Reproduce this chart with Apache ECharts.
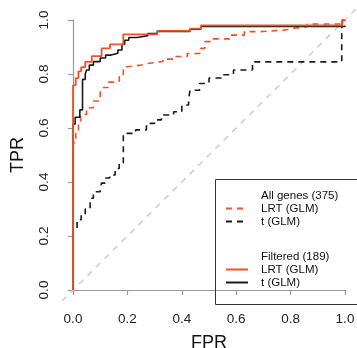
<!DOCTYPE html>
<html>
<head>
<meta charset="utf-8">
<script src="https://cdn.jsdelivr.net/npm/echarts@6/dist/echarts.min.js"></script>
<style>html,body{margin:0;padding:0;background:#fff;}#c{width:357px;height:348px;}</style>
</head>
<body>
<div id="c"></div>
<script>
// Tick labels
const tickLabels = ['0.0', '0.2', '0.4', '0.6', '0.8', '1.0'];

// Filtered (189) - LRT (GLM): step vertices (FPR, TPR)
const filtLrtFpr = [0, 0, 0.01, 0.02, 0.03, 0.045, 0.069, 0.105, 0.136, 0.185, 0.31, 0.43, 0.47, 0.99, 1];
const filtLrtTpr = [0, 0.758, 0.785, 0.81, 0.825, 0.845, 0.866, 0.895, 0.91, 0.947, 0.96, 0.968, 0.98, 1, 1];

// Filtered (189) - t (GLM)
const filtTFpr = [0, 0, 0.008, 0.025, 0.035, 0.045, 0.05, 0.06, 0.075, 0.10, 0.12, 0.14, 0.165, 0.18, 0.19, 0.205, 0.235, 0.275, 0.31, 0.43, 0.47, 0.99, 1];
const filtTTpr = [0, 0.615, 0.64, 0.667, 0.78, 0.80, 0.815, 0.833, 0.846, 0.859, 0.87, 0.877, 0.889, 0.91, 0.925, 0.935, 0.942, 0.95, 0.958, 0.966, 0.976, 1, 1];

// All genes (375) - LRT (GLM)
const allLrtFpr = [0, 0, 0.01, 0.02, 0.028, 0.05, 0.075, 0.10, 0.105, 0.13, 0.17, 0.185, 0.20, 0.25, 0.28, 0.33, 0.37, 0.42, 0.47, 0.485, 0.51, 0.58, 0.63, 0.69, 0.78, 0.80, 0.86, 0.99, 1];
const allLrtTpr = [0, 0.545, 0.58, 0.62, 0.65, 0.675, 0.70, 0.73, 0.75, 0.77, 0.79, 0.827, 0.833, 0.84, 0.846, 0.855, 0.865, 0.876, 0.895, 0.92, 0.93, 0.944, 0.957, 0.963, 0.968, 0.975, 0.985, 1, 1];

// All genes (375) - t (GLM)
const allTFpr = [0, 0, 0.015, 0.03, 0.045, 0.063, 0.075, 0.10, 0.105, 0.118, 0.135, 0.155, 0.17, 0.185, 0.23, 0.27, 0.30, 0.325, 0.37, 0.40, 0.425, 0.43, 0.465, 0.50, 0.55, 0.59, 0.66, 0.988, 1];
const allTTpr = [0, 0.228, 0.26, 0.278, 0.30, 0.34, 0.364, 0.378, 0.396, 0.415, 0.426, 0.45, 0.47, 0.58, 0.593, 0.617, 0.63, 0.648, 0.66, 0.685, 0.704, 0.74, 0.765, 0.785, 0.797, 0.815, 0.845, 0.976, 1];

// Chance diagonal (spans the whole plot region)
const diagX = [-0.04, 1.04];
const diagY = [-0.04, 1.04];

const RED = '#ef5229';
const BLACK = '#1a1a1a';
const FONT = 'Liberation Sans, Arial, Helvetica, sans-serif';

function zip(a, b) { return a.map((v, i) => [v, b[i]]); }

const chart = echarts.init(document.getElementById('c'), null, { renderer: 'canvas' });

const axisCommon = {
  type: 'value', min: 0, max: 1, interval: 0.2,
  splitLine: { show: false },
  axisLine: { show: true, lineStyle: { color: '#999', width: 1.2 } },
  axisTick: { show: true, length: 5, inside: false, lineStyle: { color: '#999', width: 1.2 } },
  axisLabel: { color: '#222', fontSize: 13.5, fontFamily: FONT, formatter: v => tickLabels[Math.round(v / 0.2)] },
  nameLocation: 'middle',
  nameTextStyle: { color: '#111', fontSize: 18, fontFamily: FONT }
};
const hiddenAxis = { type: 'value', min: -0.04, max: 1.04, show: false };

chart.setOption({
  animation: false,
  backgroundColor: '#fff',
  grid: [
    { left: 73, right: 12, top: 20, bottom: 58, containLabel: false, outerBoundsMode: 'none' },
    { left: 62, right: 1, top: 9, bottom: 47, containLabel: false, outerBoundsMode: 'none' }
  ],
  xAxis: [
    Object.assign({}, axisCommon, {
      gridIndex: 0, offset: 12, name: 'FPR', nameGap: 32,
      axisLabel: Object.assign({}, axisCommon.axisLabel, { margin: 10 })
    }),
    Object.assign({ gridIndex: 1 }, hiddenAxis)
  ],
  yAxis: [
    Object.assign({}, axisCommon, {
      gridIndex: 0, offset: 10, name: 'TPR', nameGap: 36,
      axisLabel: Object.assign({}, axisCommon.axisLabel, { margin: 12, rotate: 90, align: 'center', verticalAlign: 'bottom' })
    }),
    Object.assign({ gridIndex: 1 }, hiddenAxis)
  ],
  legend: [
    {
      orient: 'vertical', left: 225, top: 189, padding: 0, itemGap: 0,
      itemWidth: 22, itemHeight: 13, selectedMode: false,
      itemStyle: { opacity: 0, color: 'rgba(0,0,0,0)', borderWidth: 0 },
      textStyle: { color: '#111', fontSize: 11.5, fontFamily: FONT, lineHeight: 13, padding: [0, 0, 0, 8] },
      data: [{ name: 'All genes (375)', icon: 'none' }, 'LRT (GLM)', 't (GLM)']
    },
    {
      orient: 'vertical', left: 225, top: 250, padding: 0, itemGap: 0,
      itemWidth: 22, itemHeight: 13, selectedMode: false,
      itemStyle: { opacity: 0, color: 'rgba(0,0,0,0)', borderWidth: 0 },
      textStyle: { color: '#111', fontSize: 11.5, fontFamily: FONT, lineHeight: 13, padding: [0, 0, 0, 8] },
      data: [{ name: 'Filtered (189)', icon: 'none' }, 'LRT (GLM) ', 't (GLM) ']
    }
  ],
  graphic: [{
    type: 'rect', left: 213, top: 177, z: 100,
    shape: { width: 142, height: 125 },
    style: { fill: 'none', stroke: '#333', lineWidth: 1 }
  }],
  series: [
    { name: 'diag', type: 'line', xAxisIndex: 1, yAxisIndex: 1, data: zip(diagX, diagY), symbol: 'none', silent: true,
      lineStyle: { color: '#cfcfcf', width: 1.6, type: [6, 6] }, z: 1 },
    { name: 'All genes (375)', type: 'line', data: [], symbol: 'none' },
    { name: 'Filtered (189)', type: 'line', data: [], symbol: 'none' },
    { name: 't (GLM)', type: 'line', data: zip(allTFpr, allTTpr), step: 'end', symbol: 'none', clip: false,
      lineStyle: { color: BLACK, width: 1.6, type: [6, 5] }, itemStyle: { color: BLACK }, z: 2 },
    { name: 'LRT (GLM)', type: 'line', data: zip(allLrtFpr, allLrtTpr), step: 'end', symbol: 'none', clip: false,
      lineStyle: { color: RED, width: 1.6, type: [6, 5] }, itemStyle: { color: RED }, z: 3 },
    { name: 't (GLM) ', type: 'line', data: zip(filtTFpr, filtTTpr), step: 'end', symbol: 'none', clip: false,
      lineStyle: { color: BLACK, width: 1.6 }, itemStyle: { color: BLACK }, z: 4 },
    { name: 'LRT (GLM) ', type: 'line', data: zip(filtLrtFpr, filtLrtTpr), step: 'end', symbol: 'none', clip: false,
      lineStyle: { color: RED, width: 1.8 }, itemStyle: { color: RED }, z: 5 }
  ]
});
</script>
</body>
</html>
